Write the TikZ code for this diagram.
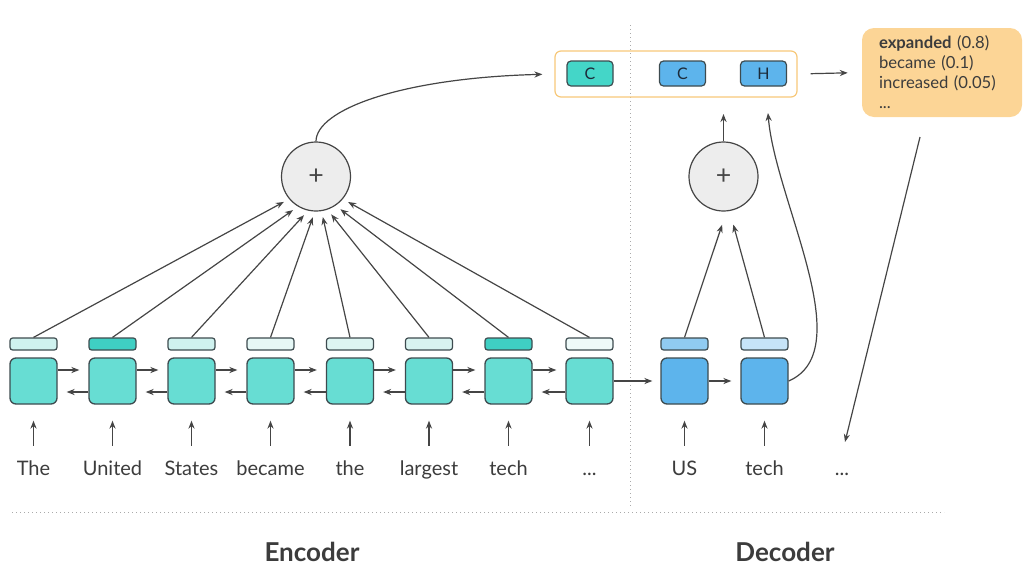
\documentclass[tikz,border=0pt]{standalone}
\usepackage{fontspec}
\setmainfont{Lato}
\usetikzlibrary{arrows.meta}
\definecolor{cellteal}{HTML}{67DDD3}
\definecolor{cellblue}{HTML}{5DB4EC}
\definecolor{borderc}{HTML}{3D4B4F}
\definecolor{arrowc}{HTML}{454545}
\definecolor{wordc}{HTML}{3C3C3C}
\definecolor{barA}{HTML}{CFF2EF}
\definecolor{barB}{HTML}{3FCFC3}
\definecolor{barC}{HTML}{E6F8F6}
\definecolor{barD}{HTML}{DDF5F2}
\definecolor{barE}{HTML}{D8F3F0}
\definecolor{barF}{HTML}{EEFAF9}
\definecolor{barG}{HTML}{90CBF1}
\definecolor{barH}{HTML}{C6E4F8}
\definecolor{ctxteal}{HTML}{44D6C8}
\definecolor{orangeb}{HTML}{F7C87A}
\definecolor{probfill}{HTML}{FCD596}
\definecolor{circfill}{HTML}{EDEDED}
\definecolor{navy}{HTML}{1C2B3A}
\definecolor{dotc}{HTML}{AAAAAA}
\begin{document}
\begin{tikzpicture}[x=0.75pt,y=-0.75pt,
  arr/.style={draw=arrowc, line width=0.9pt, -{Stealth[length=6pt,width=4.6pt]}},
  cellE/.style={draw=borderc, line width=1pt, fill=cellteal, rounded corners=4.5pt, minimum width=35.25pt, minimum height=34.5pt, inner sep=0pt},
  cellD/.style={cellE, fill=cellblue},
  hbar/.style={draw=borderc, line width=0.9pt, rounded corners=2pt, minimum width=35.25pt, minimum height=9pt, inner sep=0pt},
  word/.style={font=\fontsize{15}{17}\selectfont, text=wordc, anchor=base, inner sep=0pt, text height=11pt, text depth=3pt},
  inarr/.style={arr, shorten <=10.7pt, shorten >=12pt},
  sumc/.style={circle, draw=arrowc, line width=0.9pt, fill=circfill, minimum size=51.75pt, inner sep=0pt, font=\fontsize{20}{20}\selectfont, text=arrowc},
  ctxbox/.style={draw=borderc, line width=0.9pt, rounded corners=3pt, minimum width=34.5pt, minimum height=18.75pt, inner sep=0pt, font=\fontsize{12}{12}\selectfont, text=navy},
  dotline/.style={draw=dotc, line width=0.75pt, dash pattern=on 0.75pt off 2.25pt},
  title/.style={font=\fontsize{19.5}{21}\bfseries\selectfont, text=wordc, anchor=base}
]
\useasboundingbox (0,0) rectangle (1028,569);
% dotted separators
\draw[dotline] (630,25) -- (630,506);
\draw[dotline] (12,512) -- (944,512);
% encoder cells
\node[cellE] (e1) at (33.5,381) {};
\node[cellE] (e2) at (112.5,381) {};
\node[cellE] (e3) at (191.5,381) {};
\node[cellE] (e4) at (270.5,381) {};
\node[cellE] (e5) at (350,381) {};
\node[cellE] (e6) at (429,381) {};
\node[cellE] (e7) at (508.5,381) {};
\node[cellE] (e8) at (589.5,381) {};
% encoder bars
\node[hbar, fill=barA] (b1) at (33.5,344) {};
\node[hbar, fill=barB] (b2) at (112.5,344) {};
\node[hbar, fill=barA] (b3) at (191.5,344) {};
\node[hbar, fill=barC] (b4) at (270.5,344) {};
\node[hbar, fill=barD] (b5) at (350,344) {};
\node[hbar, fill=barE] (b6) at (429,344) {};
\node[hbar, fill=barB] (b7) at (508.5,344) {};
\node[hbar, fill=barF] (b8) at (589.5,344) {};
% decoder cells and bars
\node[cellD] (d1) at (684.5,381) {};
\node[cellD] (d2) at (764.5,381) {};
\node[hbar, fill=barG] (db1) at (684.5,344) {};
\node[hbar, fill=barH] (db2) at (764.5,344) {};
% words
\node[word] (w1) at (33.5,475) {The};
\node[word] (w2) at (112.5,475) {United};
\node[word] (w3) at (191.5,475) {States};
\node[word] (w4) at (270.5,475) {became};
\node[word] (w5) at (350,475) {the};
\node[word] (w6) at (429,475) {largest};
\node[word] (w7) at (508.5,475) {tech};
\node[word] (w8) at (589.5,475) {...};
\node[word] (dw1) at (684.5,475) {US};
\node[word] (dw2) at (764.5,475) {tech};
\node[word] (dw3) at (842,475) {...};
% input arrows
\foreach \a/\b in {w1/e1,w2/e2,w3/e3,w4/e4,w5/e5,w6/e6,w7/e7,w8/e8,dw1/d1,dw2/d2}
  \draw[inarr] (\a.north) -- (\b.south);
% recurrent arrows
\foreach \a/\b in {e1/e2,e2/e3,e3/e4,e4/e5,e5/e6,e6/e7,e7/e8}{
  \draw[arr, shorten >=6.75pt] ([yshift=8.25pt]\a.east) -- ([yshift=8.25pt]\b.west);
  \draw[arr, shorten >=6.75pt] ([yshift=-8.25pt]\b.west) -- ([yshift=-8.25pt]\a.east);
}
\draw[arr, shorten >=6pt] (e8.east) -- (d1.west);
\draw[arr, shorten >=6.75pt] (d1.east) -- (d2.west);
% sum circles
\node[sumc] (esum) at (316,176.5) {+};
\node[sumc] (dsum) at (723.5,176.5) {+};
\foreach \b/\ang in {b1/220.5,b2/239.4,b3/257.5,b4/268.6,b5/279.8,b6/289.6,b7/304.8,b8/320.4}
  \draw[arr, shorten >=4.5pt] (\b.north) -- (esum.\ang);
\draw[arr, shorten >=10.5pt] (db1.north) -- (dsum.275);
\draw[arr, shorten >=10.5pt] (db2.north) -- (dsum.280);
% context box
\node[draw=orangeb, line width=0.9pt, rounded corners=4.5pt, minimum width=181.5pt, minimum height=34.5pt, inner sep=0pt] (ctx) at (676,74) {};
\node[ctxbox, fill=ctxteal] (c1) at (590,73.5) {C};
\node[ctxbox, fill=cellblue] (c2) at (682.5,73.5) {C};
\node[ctxbox, fill=cellblue] (h1) at (763.5,73.5) {H};
\coordinate (dup) at (723.5,114);
\coordinate (hup) at (768,113);
\draw[arr] (dsum.north) -- (dup);
\draw[arr] (d2.east) .. controls (860,350) and (775,200) .. (hup);
\draw[arr, shorten >=9pt] (esum.north) .. controls (316,110) and (400,78) .. (ctx.west);
% probabilities
\node[fill=probfill, rounded corners=9pt, minimum width=120pt, minimum height=66.75pt, inner xsep=12.75pt, inner ysep=0pt, text width=94.5pt, align=left, font=\fontsize{12.5}{15}\selectfont, text=wordc] (prob) at (942,72.5)
  {\textbf{expanded} (0.8)\\became (0.1)\\increased (0.05)\\...};
\draw[arr, shorten <=9.75pt, shorten >=10.5pt] (ctx.east) -- (prob.west);
\coordinate (pstart) at (920,137);
\coordinate (pend) at (845,442);
\draw[arr] (pstart) -- (pend);
% titles
\node[title] (enc) at (312,561) {Encoder};
\node[title] (dec) at (785,561) {Decoder};
\end{tikzpicture}
\end{document}
